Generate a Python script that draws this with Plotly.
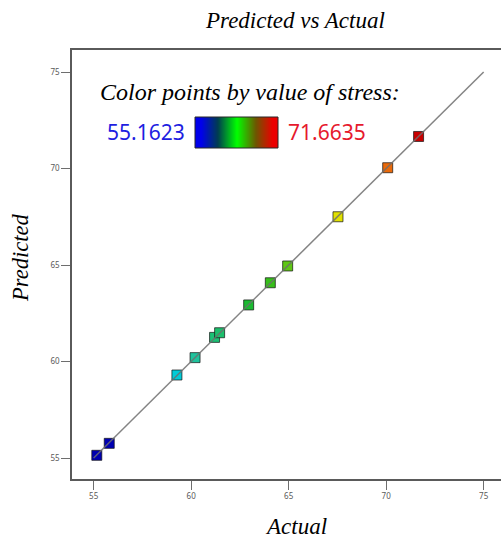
import plotly.graph_objects as go

# Data
actual = [55.1623, 55.80, 59.27, 60.20, 61.20, 61.46, 62.95, 64.06, 64.95, 67.53, 70.08, 71.6635]
predicted = [55.14, 55.76, 59.30, 60.20, 61.25, 61.49, 62.93, 64.08, 64.95, 67.50, 70.04, 71.66]
stress = actual
stress_min = 55.1623
stress_max = 71.6635
diag = [55, 75]
x_ticks = [55, 60, 65, 70, 75]
y_ticks = [55, 60, 65, 70, 75]

W, H = 501, 538
L, R, T, B = 72, 0, 50, 59
pw, ph = W - L - R, H - T - B


def px(x):
    return (x - L) / pw


def py(y):
    return (H - B - y) / ph


point_scale = [[0, 'rgb(0,0,175)'], [0.05, 'rgb(0,0,180)'], [0.25, 'rgb(0,205,215)'],
               [0.3, 'rgb(30,195,160)'], [0.5, 'rgb(25,185,30)'], [0.6, 'rgb(100,200,20)'],
               [0.75, 'rgb(225,225,0)'], [0.9, 'rgb(235,110,10)'], [1, 'rgb(200,0,0)']]
bar_scale = [[0, 'rgb(0,0,235)'], [0.07, 'rgb(0,0,235)'], [0.27, 'rgb(0,60,80)'],
             [0.5, 'rgb(0,255,0)'], [0.73, 'rgb(110,85,0)'], [0.93, 'rgb(235,0,0)'],
             [1, 'rgb(235,0,0)']]

fig = go.Figure()
fig.add_trace(go.Scatter(x=actual, y=predicted, mode='markers', showlegend=False,
                         marker=dict(symbol='square', size=10, color=stress,
                                     colorscale=point_scale, cmin=stress_min, cmax=stress_max,
                                     line=dict(color='rgba(20,20,20,0.7)', width=1))))
fig.add_trace(go.Scatter(x=diag, y=diag, mode='lines',
                         line=dict(color='rgba(110,110,110,0.85)', width=1.5),
                         hoverinfo='skip', showlegend=False))
# legend colour bar drawn as a smooth heatmap on its own small axes
fig.add_trace(go.Heatmap(z=[[stress_min, stress_max]], x=[0, 1], y=[0], zsmooth='best',
                         colorscale=bar_scale, zmin=stress_min, zmax=stress_max,
                         showscale=False, hoverinfo='skip', xaxis='x2', yaxis='y2'))

serif = 'Liberation Serif'
sans = 'Noto Sans'


def note(text, x, y, size, family, color='black', xanchor='center', angle=0):
    fig.add_annotation(text=text, xref='paper', yref='paper', x=px(x), y=py(y),
                       xanchor=xanchor, yanchor='middle', showarrow=False, textangle=angle,
                       font=dict(family=family, size=size, color=color))


note('<i>Predicted vs Actual</i>', 295, 21, 23, serif)
note('<i>Color points by value of stress:</i>', 250, 92, 24, serif)
note(f'{stress_min:.4f}', 187, 132, 21, sans, 'rgb(30,30,225)', xanchor='right')
note(f'{stress_max:.4f}', 286, 132, 21, sans, 'rgb(230,25,45)', xanchor='left')
note('<i>Actual</i>', 296, 526, 23, serif)
note('<i>Predicted</i>', 20, 258, 22.5, serif, angle=-90)

fig.add_shape(type='rect', xref='x2 domain', yref='y2 domain', x0=0, x1=1, y0=0, y1=1,
              line=dict(color='rgb(40,40,40)', width=1))

axis_common = dict(showgrid=False, zeroline=False, showline=True, linecolor='rgb(90,90,90)',
                   linewidth=1.5, ticks='outside', ticklen=9, tickcolor='rgb(110,110,110)',
                   tickwidth=1.2, tickfont=dict(family=sans, size=8, color='rgb(90,90,90)'))
fig.update_layout(
    xaxis=dict(range=[53.89, 53.89 + pw / 19.5], tickvals=x_ticks, mirror=True, **axis_common),
    yaxis=dict(range=[55 - 21 / 19.3, 55 - 21 / 19.3 + ph / 19.3], tickvals=y_ticks, mirror=False,
               **axis_common),
    xaxis2=dict(domain=[px(195), px(278)], range=[0, 1], anchor='y2', visible=False, fixedrange=True),
    yaxis2=dict(domain=[py(148), py(117)], range=[-0.5, 0.5], anchor='x2', visible=False, fixedrange=True),
)

fig.update_layout(width=W, height=H, margin=dict(l=L, r=R, t=T, b=B, autoexpand=False),
                  plot_bgcolor='white', paper_bgcolor='white', showlegend=False)
fig.write_html('out.html', config={'displayModeBar': False},
               post_script="document.body.style.margin='0';document.body.style.overflow='hidden';")
